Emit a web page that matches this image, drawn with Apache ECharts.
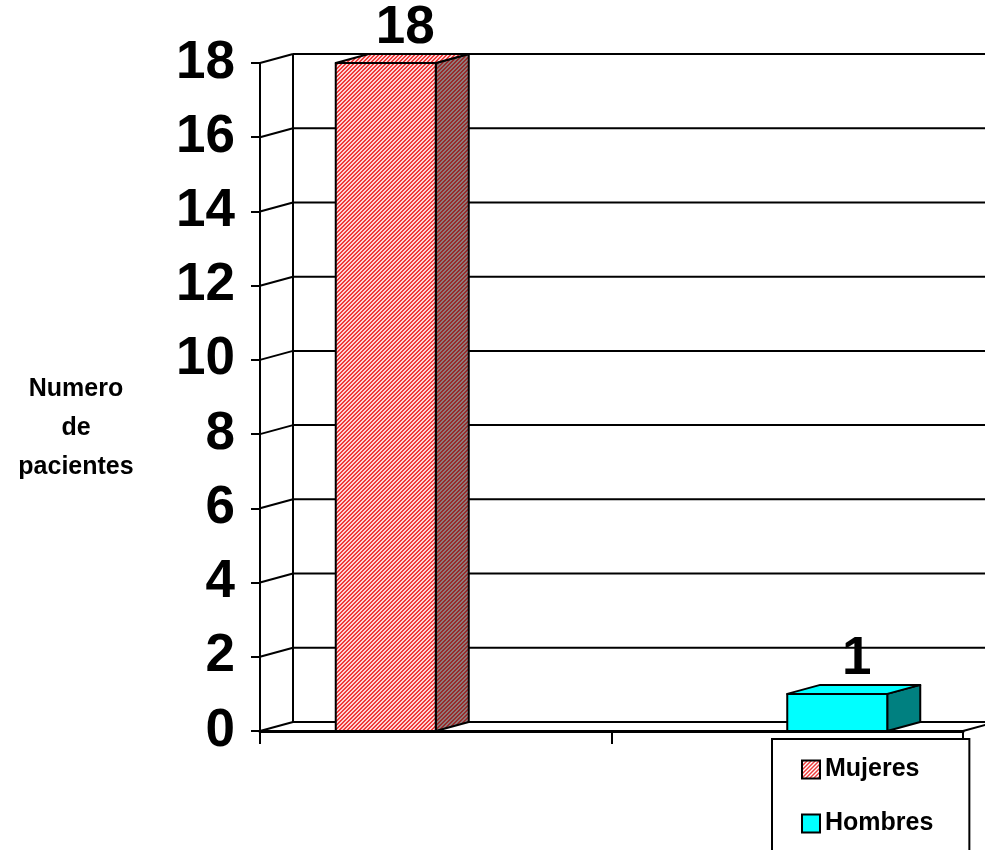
<!DOCTYPE html>
<html>
<head>
<meta charset="utf-8">
<script src="https://cdn.jsdelivr.net/npm/echarts@6/dist/echarts.min.js"></script>
<style>
  html, body { margin: 0; padding: 0; background: #ffffff; }
  #chart { width: 985px; height: 850px; }
</style>
</head>
<body>
<div id="chart"></div>
<script>
// ---- data ----
const categories = ['', ''];
const seriesNames = ['Mujeres', 'Hombres'];
const mujeres = [18, null];
const hombres = [null, 1];
const yTicks = [0, 2, 4, 6, 8, 10, 12, 14, 16, 18];
const axisTitle = 'Numero\nde\npacientes';

// ---- styling ----
const FONT = '"Liberation Sans", Arial, Helvetica, sans-serif';
const DX = 33, DY = -9;          // depth offset of the 3D frame and boxes
const BAR_RATIO = 0.2845;        // bar width as share of a category band

// diagonal hatch fill built on a tiny canvas
function hatch(fg, bg) {
  const c = document.createElement('canvas');
  c.width = 4; c.height = 4;
  const g = c.getContext('2d');
  g.fillStyle = bg; g.fillRect(0, 0, 4, 4);
  g.fillStyle = fg;
  for (let y = 0; y < 4; y++)
    for (let x = 0; x < 4; x++)
      if ((x + y) % 4 < 2) g.fillRect(x, y, 1, 1);
  return { image: c, repeat: 'repeat' };
}

const faces = [
  { front: hatch('#ee3a3a', '#ffd2d2'), side: hatch('#962a2a', '#8e7a7a'), top: hatch('#ee3a3a', '#ffd2d2'), legend: hatch('#ee3a3a', '#ffffff') },
  { front: '#00ffff', side: '#008080', top: '#00ffff', legend: '#00ffff' }
];

// 3D box renderer; slot 0 sits left of the band centre, slot 1 right of it
function boxRenderer(slot) {
  const f = faces[slot];
  return function (params, api) {
    const v = api.value(1);
    if (v == null || isNaN(v)) return null;
    const cat = api.value(0);
    const base = api.coord([cat, 0]);
    const head = api.coord([cat, v]);
    const bw = api.size([1, 0])[0] * BAR_RATIO;
    const x0 = base[0] + (slot === 0 ? -bw : 0);
    const x1 = x0 + bw;
    const yb = base[1], yt = head[1];
    const line = { stroke: '#000', lineWidth: 2, lineJoin: 'round' };
    return {
      type: 'group',
      children: [
        { type: 'polygon', shape: { points: [[x1, yb], [x1 + DX, yb + DY], [x1 + DX, yt + DY], [x1, yt]] },
          style: Object.assign({ fill: f.side }, line) },
        { type: 'polygon', shape: { points: [[x0, yt], [x1, yt], [x1 + DX, yt + DY], [x0 + DX, yt + DY]] },
          style: Object.assign({ fill: f.top }, line) },
        { type: 'rect', shape: { x: x0, y: yt, width: bw, height: yb - yt },
          style: Object.assign({ fill: f.front }, line) },
        { type: 'text', x: x0 + bw / 2 + DX / 2 + 3, y: yt + DY + 1,
          style: { text: String(v), fill: '#000', font: 'bold 53px ' + FONT,
                   textAlign: 'center', textVerticalAlign: 'bottom' } }
      ]
    };
  };
}

// side wall, back wall and floor edges of the 3D frame
function frameRenderer(params, api) {
  const cs = params.coordSys;
  const t = api.value(0);
  const y = api.coord([0, t])[1];
  const gx = cs.x, gr = cs.x + cs.width;
  const st = { stroke: '#000', lineWidth: 2 };
  const kids = [
    { type: 'line', shape: { x1: gx, y1: y, x2: gx + DX, y2: y + DY }, style: st },
    { type: 'line', shape: { x1: gx + DX, y1: y + DY, x2: gr + DX, y2: y + DY }, style: st }
  ];
  if (params.dataIndex === 0) {
    kids.push({ type: 'line', shape: { x1: gx + DX, y1: y + DY, x2: gx + DX, y2: cs.y + DY }, style: st });
    kids.push({ type: 'line', shape: { x1: gr, y1: y, x2: gr + DX, y2: y + DY }, style: st });
  }
  return { type: 'group', children: kids };
}

const chart = echarts.init(document.getElementById('chart'), null, { renderer: 'canvas' });

chart.setOption({
  animation: false,
  backgroundColor: '#ffffff',
  grid: { left: 260, top: 63, right: 22, bottom: 119 },
  graphic: [{
    type: 'text',
    x: 76, y: 428,
    style: { text: axisTitle, fill: '#000', font: 'bold 25px ' + FONT, lineHeight: 39,
             textAlign: 'center', textVerticalAlign: 'middle' }
  }],
  xAxis: {
    type: 'category',
    data: categories,
    axisLine: { show: true, lineStyle: { color: '#000', width: 3 } },
    axisTick: { show: true, length: 13, interval: 0, lineStyle: { color: '#000', width: 2 } },
    axisLabel: { show: false },
    splitLine: { show: false }
  },
  yAxis: {
    type: 'value',
    min: yTicks[0],
    max: yTicks[yTicks.length - 1],
    interval: yTicks[1] - yTicks[0],
    axisLine: { show: true, lineStyle: { color: '#000', width: 2 } },
    axisTick: { show: true, length: 9, lineStyle: { color: '#000', width: 2 } },
    axisLabel: { color: '#000', fontFamily: FONT, fontWeight: 'bold', fontSize: 53, margin: 25 },
    splitLine: { show: false }
  },
  legend: {
    orient: 'vertical',
    left: 772,
    top: 739,
    height: 200,
    backgroundColor: '#ffffff',
    borderColor: '#000',
    borderWidth: 2,
    borderRadius: 0,
    padding: [18, 36, 50, 29],
    itemWidth: 18,
    itemHeight: 18,
    itemGap: 29,
    textStyle: { color: '#000', fontFamily: FONT, fontWeight: 'bold', fontSize: 25, lineHeight: 24 },
    data: seriesNames.map((n, i) => ({
      name: n, icon: 'rect',
      itemStyle: { color: faces[i].legend, borderColor: '#000', borderWidth: 2 }
    }))
  },
  series: [
    {
      type: 'custom', name: '_frame', z: 1, silent: true,
      renderItem: frameRenderer,
      data: yTicks.map(t => [t])
    },
    {
      type: 'custom', name: seriesNames[0], z: 3,
      itemStyle: { color: '#f08080' },
      renderItem: boxRenderer(0),
      data: mujeres.map((v, i) => [i, v])
    },
    {
      type: 'custom', name: seriesNames[1], z: 3,
      itemStyle: { color: '#00ffff' },
      renderItem: boxRenderer(1),
      data: hombres.map((v, i) => [i, v])
    }
  ]
});
</script>
</body>
</html>
